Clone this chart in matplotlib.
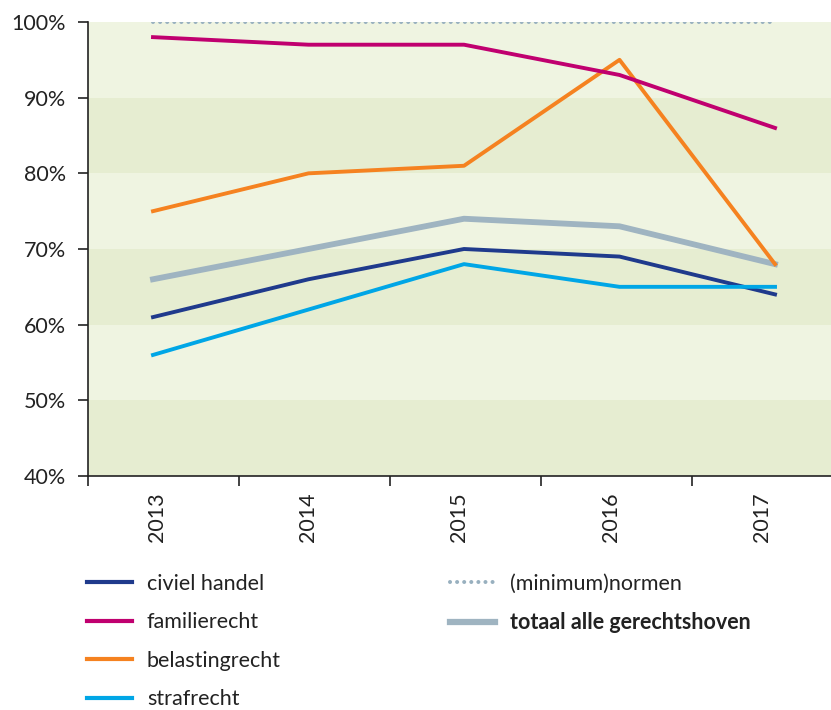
import matplotlib.pyplot as plt
from matplotlib.lines import Line2D

plt.rcParams['font.family'] = ['Lato', 'DejaVu Sans']

years = ['2013', '2014', '2015', '2016', '2017']
civiel = [61, 66, 70, 69, 64]
familie = [98, 97, 97, 93, 86]
belasting = [75, 80, 81, 95, 68]
straf = [56, 62, 68, 65, 65]
normen = [100, 100, 100, 100, 100]
totaal = [66, 70, 74, 73, 68]

fig = plt.figure(figsize=(8.31, 7.10), dpi=100)
ax = fig.add_axes([88/831, 234/710, 743/831, 454/710])

# alternating background bands
for lo in range(40, 100, 10):
    c = '#e6edd1' if (lo // 10) % 2 == 0 else '#eff4e1'
    ax.axhspan(lo, lo + 10, color=c, lw=0, zorder=0)

ax.set_yticks(range(40, 101, 10))
ax.set_yticklabels([f'{v}%' for v in range(40, 101, 10)], fontsize=15.5, color='#222222')
ax.set_xticks([i - 0.5 for i in range(len(years) + 1)])
ax.set_xticklabels([])
ax.set_xticks([i - 0.04 for i in range(len(years))], minor=True)
ax.set_xticklabels(years, minor=True, rotation=90, fontsize=15.5, color='#222222')
ax.set_ylim(40, 100)
ax.set_xlim(-0.5, 4.42)
ax.tick_params(axis='x', which='minor', length=0, pad=12)
ax.tick_params(axis='both', which='major', length=7, width=1.2, color='#222222')
ax.tick_params(axis='y', pad=9)
for s in ['top', 'right']:
    ax.spines[s].set_visible(False)
for s in ['left', 'bottom']:
    ax.spines[s].set_color('#222222')
    ax.spines[s].set_linewidth(1.2)

# the lines sit on a slightly wider spacing than the category ticks
lx = fig.add_axes(ax.get_position(), sharey=ax)
lx.patch.set_visible(False)
lx.axis('off')
x = range(len(years))
dots = (0, (0.01, 1.75))
lx.plot(x, normen, color='#98b0bf', lw=2.9, ls=dots, dash_capstyle='round', zorder=2)
lx.plot(x, totaal, color='#9fb4c1', lw=4.2, zorder=3)
lx.plot(x, civiel, color='#1f3a8c', lw=2.8, zorder=4)
lx.plot(x, straf, color='#00a6e6', lw=2.8, zorder=4)
lx.plot(x, belasting, color='#f58220', lw=2.8, zorder=4)
lx.plot(x, familie, color='#c0006f', lw=2.8, zorder=5)
lx.set_xlim(-0.418, 4.36)
lx.set_ylim(40, 100)

blank = Line2D([], [], alpha=0)
handles = [
    Line2D([], [], color='#1f3a8c', lw=3),
    Line2D([], [], color='#c0006f', lw=3),
    Line2D([], [], color='#f58220', lw=3),
    Line2D([], [], color='#00a6e6', lw=3),
    Line2D([], [], color='#98b0bf', lw=2.9, ls=dots, dash_capstyle='round'),
    Line2D([], [], color='#9fb4c1', lw=4.5),
    blank, blank,
]
labels = ['civiel handel', 'familierecht', 'belastingrecht', 'strafrecht',
          '(minimum)normen', 'totaal alle gerechtshoven', '', '']
leg = fig.legend(handles, labels, ncol=2, loc='upper left', bbox_to_anchor=(78/831, 1 - 565/710),
                 frameon=False, fontsize=15.5, handlelength=2.1, handletextpad=0.7,
                 columnspacing=7.85, labelspacing=0.86, borderaxespad=0)
leg.get_texts()[5].set_fontweight('bold')
for t in leg.get_texts():
    t.set_color('#222222')

fig.savefig('out.png', dpi=100)
